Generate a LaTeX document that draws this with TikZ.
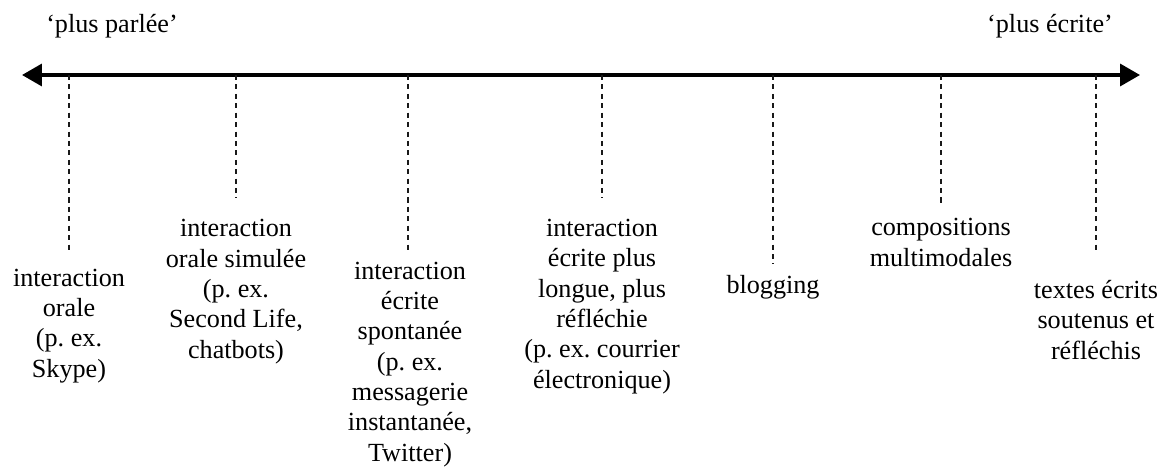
\documentclass[tikz,border=0pt]{standalone}
\usepackage{fontspec}
\setmainfont{Liberation Serif}
\usetikzlibrary{arrows.meta, positioning}
\frenchspacing

\tikzset{
  axisline/.style={black, line width=2.6pt,
                   {Triangle[length=14.2pt,width=15.6pt]}-{Triangle[length=14.2pt,width=15.6pt]}},
  tickline/.style={black!90, line width=1.6pt, dash pattern=on 3.6pt off 3.1pt},
  itemtext/.style={inner sep=0pt, anchor=base, align=center,
                   font=\fontsize{18.6}{21.55}\selectfont},
}

\begin{document}
\begin{tikzpicture}[x=0.025cm, y=-0.025cm]
      % Frame, same size as the traced image (pixels)
      \useasboundingbox (0,0) rectangle (1161,466);

      % Axis
      \coordinate (axisL) at (22,  75);
      \coordinate (axisR) at (1140,75);
      \draw[axisline] (axisL) -- (axisR);

      % End labels
      \node[itemtext] (parle)  at (112, 33) {‘plus parlée’};
      \node[itemtext] (ecrite) at (1050,33) {‘plus écrite’};

      % Ticks: top on the axis, free end above the text
      \coordinate (oralT)   at (69,  75);  \coordinate (oralE)   at (69,  251);
      \coordinate (simulT)  at (236, 75);  \coordinate (simulE)  at (236, 198);
      \coordinate (spontT)  at (408, 75);  \coordinate (spontE)  at (408, 251);
      \coordinate (reflT)   at (602, 75);  \coordinate (reflE)   at (602, 198);
      \coordinate (blogT)   at (773, 75);  \coordinate (blogE)   at (773, 264);
      \coordinate (multiT)  at (941, 75);  \coordinate (multiE)  at (941, 206);
      \coordinate (soutT)   at (1096,75);  \coordinate (soutE)   at (1096,251);

      \foreach \t in {oral, simul, spont, refl, blog, multi, sout}
        \draw[tickline] (\t T) -- (\t E);

      % Texts, placed at the baseline of their last line
      \node[itemtext] (oral)  at (69,  377) {interaction\\orale\\(p. ex.\\Skype)};
      \node[itemtext] (simul) at (236, 358) {interaction\\orale simulée\\(p. ex.\\Second Life,\\chatbots)};
      \node[itemtext] (spont) at (410, 461) {interaction\\écrite\\spontanée\\(p. ex.\\messagerie\\instantanée,\\Twitter)};
      \node[itemtext] (refl)  at (602, 388) {interaction\\écrite plus\\longue, plus\\réfléchie\\(p. ex. courrier\\électronique)};
      \node[itemtext] (blog)  at (773, 293) {blogging};
      \node[itemtext] (multi) at (941, 266) {compositions\\multimodales};
      \node[itemtext] (sout)  at (1096,359) {textes écrits\\soutenus et\\réfléchis};
  \end{tikzpicture}
\end{document}
